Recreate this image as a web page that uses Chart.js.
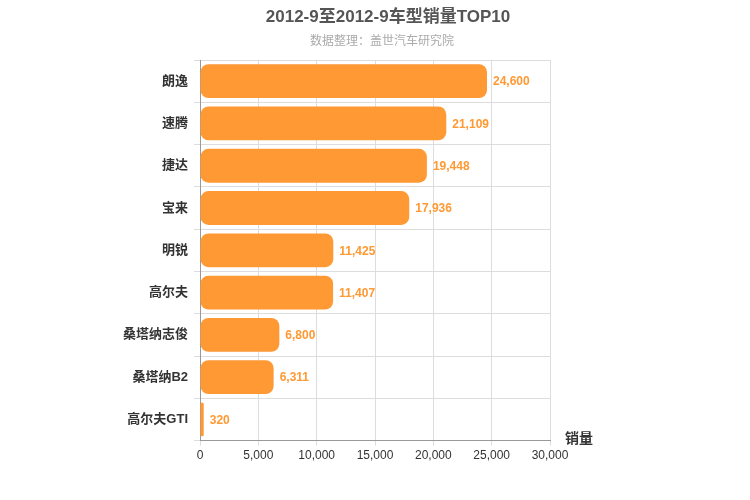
<!DOCTYPE html>
<html><head><meta charset="utf-8">
<script src="https://cdn.jsdelivr.net/npm/chart.js@4"></script>
<style>body{margin:0;background:#fff}#w{width:750px;height:500px}</style>
</head><body><div id="w"><canvas id="c"></canvas></div>
<script>
const categories=["朗逸","速腾","捷达","宝来","明锐","高尔夫","桑塔纳志俊","桑塔纳B2","高尔夫GTI"];
const sales=[24600,21109,19448,17936,11425,11407,6800,6311,320];
const tickMax=30000, tickStep=5000;
const font="'Helvetica','Liberation Sans','Noto Sans CJK SC',sans-serif";
const labelPlugin={id:'lbl',afterDatasetsDraw(ch){const ctx=ch.ctx;const m=ch.getDatasetMeta(0);ctx.save();ctx.font="bold 12px "+font;ctx.fillStyle="#FF9933";ctx.textBaseline="middle";m.data.forEach((b,i)=>{ctx.fillText(sales[i].toLocaleString('en-US'),b.x+6,b.y+1);});
ctx.fillStyle="#333";ctx.font="bold 14px "+font;ctx.fillText("销量",565,439);
ctx.textAlign="center";ctx.fillStyle="#555";ctx.font="bold 17px "+font;ctx.fillText("2012-9至2012-9车型销量TOP10",388,17);
ctx.fillStyle="#aaa";ctx.font="12px "+font;ctx.fillText("数据整理：盖世汽车研究院",382,42);ctx.restore();}};
new Chart(document.getElementById('c'),{type:'bar',data:{labels:categories,datasets:[{data:sales,backgroundColor:'#FF9933',borderRadius:8,borderSkipped:false,barPercentage:0.8,categoryPercentage:1}]},
options:{indexAxis:'y',responsive:true,maintainAspectRatio:false,animation:false,
layout:{padding:{left:0,right:200,top:60,bottom:34}},
plugins:{legend:{display:false},tooltip:{enabled:false}},
scales:{x:{min:0,max:tickMax,ticks:{stepSize:tickStep,color:'#333',font:{size:12,family:font},callback:v=>v.toLocaleString('en-US')},grid:{color:'#ddd',tickLength:5},border:{color:'#999'}},
y:{afterFit(s){s.width=200;},ticks:{color:'#333',font:{size:13,weight:'bold',family:font},padding:6},grid:{color:'#ddd',tickLength:6},border:{color:'#999'}}}},
plugins:[labelPlugin]});
</script></body></html>
